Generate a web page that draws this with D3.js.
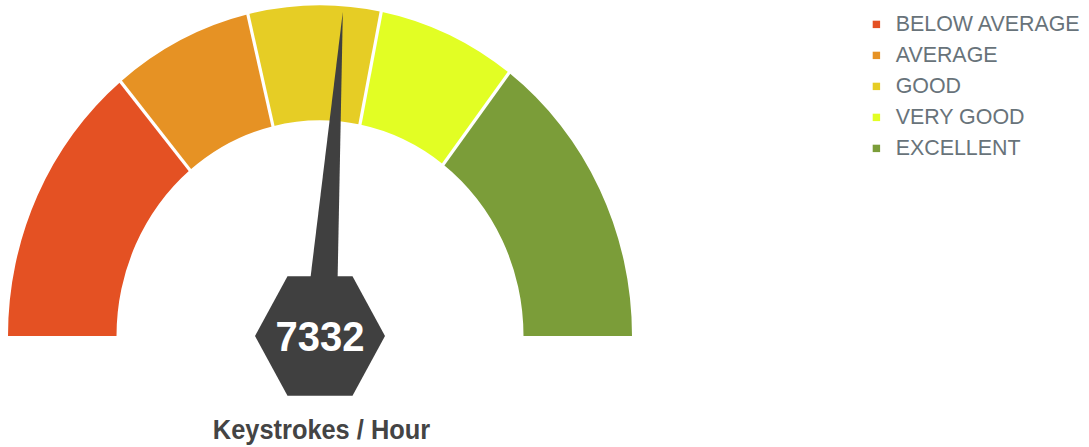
<!DOCTYPE html>
<html>
<head>
<meta charset="utf-8">
<script src="https://cdn.jsdelivr.net/npm/d3@7/dist/d3.min.js"></script>
<style>
  html, body { margin: 0; padding: 0; background: #fff; }
  svg { display: block; font-family: "Liberation Sans", Arial, Helvetica, sans-serif; }
</style>
</head>
<body>
<svg id="chart" width="1089" height="447"></svg>
<script>
// ---- data ----
const categories = ["BELOW AVERAGE", "AVERAGE", "GOOD", "VERY GOOD", "EXCELLENT"];
const rangeStarts = [0, 3910, 5960, 7880, 9900];
const rangeEnds   = [3910, 5960, 7880, 9900, 14000];
const colors = ["#e45123", "#e69224", "#e6cd25", "#e2fe24", "#7b9d39"];
const gaugeMin = 0;
const gaugeMax = 14000;
const currentValue = 7332;
const gaugeTitle = "Keystrokes / Hour";

// ---- layout ----
const svg = d3.select("#chart");
const cx = 320, cy = 336, stretchY = 1.06;
const outerR = 312, innerR = 203.5;

const angle = d3.scaleLinear().domain([gaugeMin, gaugeMax]).range([-Math.PI / 2, Math.PI / 2]);

const g = svg.append("g").attr("transform", `translate(${cx},${cy}) scale(1,${stretchY})`);

const arc = d3.arc().innerRadius(innerR).outerRadius(outerR);

const segs = categories.map((c, i) => ({ name: c, start: rangeStarts[i], end: rangeEnds[i], color: colors[i] }));

g.selectAll("path.band").data(segs).join("path")
  .attr("class", "band")
  .attr("d", d => arc({ startAngle: angle(d.start), endAngle: angle(d.end) }))
  .attr("fill", d => d.color);

// white separators between bands
g.selectAll("line.sep").data(rangeStarts.slice(1)).join("line")
  .attr("class", "sep")
  .attr("x1", v => (innerR - 2) * Math.sin(angle(v)))
  .attr("y1", v => -(innerR - 2) * Math.cos(angle(v)))
  .attr("x2", v => (outerR + 3) * Math.sin(angle(v)))
  .attr("y2", v => -(outerR + 3) * Math.cos(angle(v)))
  .attr("stroke", "#fff")
  .attr("stroke-width", 3.2);

// needle
const a = angle(currentValue);
const needleLen = 307, needleHalf = 16.5;
const tip = [needleLen * Math.sin(a), -needleLen * Math.cos(a)];
const b1 = [needleHalf * Math.cos(a), needleHalf * Math.sin(a)];
const b2 = [-needleHalf * Math.cos(a), -needleHalf * Math.sin(a)];
g.append("path")
  .attr("d", d3.line()([b1, tip, b2]) + "Z")
  .attr("fill", "#404040");

// hexagon
const hexR = 65;
const hexPts = d3.range(6).map(i => [hexR * Math.cos(i * Math.PI / 3), hexR * Math.sin(i * Math.PI / 3)]);
g.append("path")
  .attr("d", d3.line()(hexPts) + "Z")
  .attr("fill", "#404040");

g.append("text")
  .attr("x", 0)
  .attr("y", 14.6)
  .attr("text-anchor", "middle")
  .attr("font-size", 40)
  .attr("font-weight", "bold")
  .attr("fill", "#fff")
  .text(currentValue);

g.append("text")
  .attr("x", 1.5)
  .attr("y", 97.5)
  .attr("text-anchor", "middle")
  .attr("font-size", 25.4)
  .attr("font-weight", "bold")
  .attr("fill", "#444")
  .text(gaugeTitle);

// legend
const legend = svg.append("g").attr("transform", "translate(872.7,0)");
const rows = legend.selectAll("g").data(segs).join("g")
  .attr("transform", (d, i) => `translate(0,${31 + i * 31})`);
rows.append("rect")
  .attr("x", 0).attr("y", -10.3)
  .attr("width", 7.4).attr("height", 7.4)
  .attr("fill", d => d.color);
rows.append("text")
  .attr("x", 23)
  .attr("y", 0)
  .attr("font-size", 21.4)
  .attr("fill", "#68737a")
  .text(d => d.name);
</script>
</body>
</html>
